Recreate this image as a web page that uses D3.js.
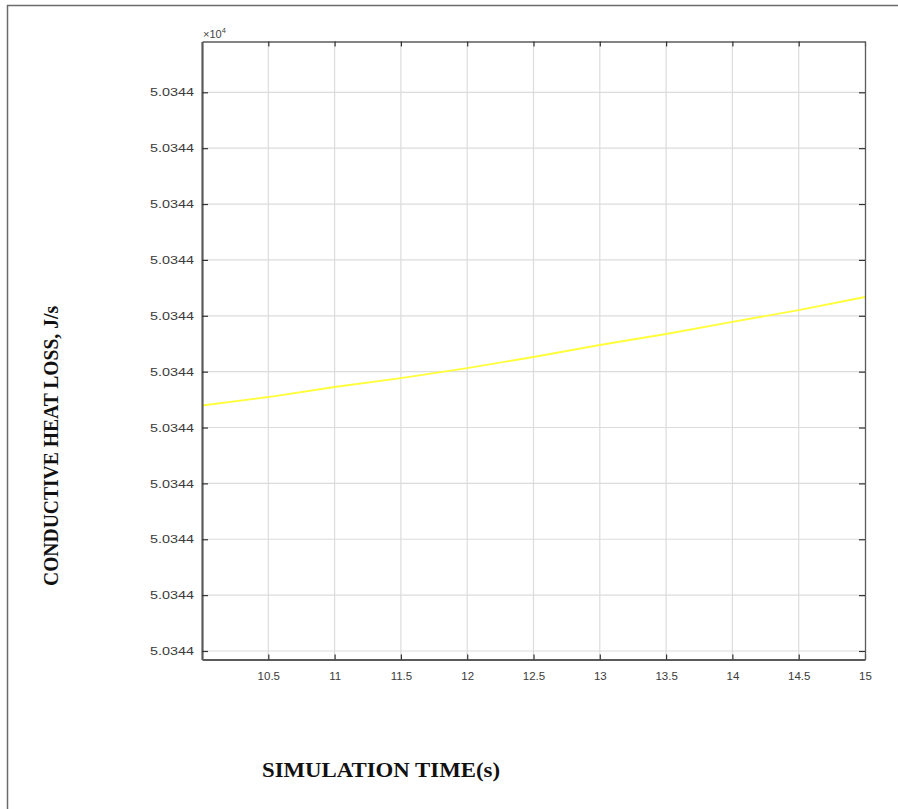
<!DOCTYPE html>
<html>
<head>
<meta charset="utf-8">
<script src="https://cdn.jsdelivr.net/npm/d3@7"></script>
<style>
  body { margin: 0; background: #fff; }
</style>
</head>
<body>
<div id="container"></div>
<script>
let simTime = [10, 10.5, 11, 11.5, 12, 12.5, 13, 13.5, 14, 14.5, 15];
let heatLoss = [50344.04394, 50344.04546, 50344.04725, 50344.04886, 50344.05065, 50344.05262,
                50344.05477, 50344.05674, 50344.05889, 50344.06103, 50344.06336];
let xTickValues = [10.5, 11, 11.5, 12, 12.5, 13, 13.5, 14, 14.5, 15];
let yTickValues = [50344.00, 50344.01, 50344.02, 50344.03, 50344.04, 50344.05,
                   50344.06, 50344.07, 50344.08, 50344.09, 50344.10];

let w = 898;
let h = 809;
let viz = d3.select("#container").append("svg")
    .attr("width", w)
    .attr("height", h)
    .style("background-color", "white");

// outer frame (only left and top edge visible)
viz.append("path")
    .attr("d", "M7.5,809 L7.5,5.5 L898,5.5")
    .attr("fill", "none")
    .attr("stroke", "#6b6b6b")
    .attr("stroke-width", 1.5);

let plotLeft = 202, plotRight = 865, plotTop = 41.5, plotBottom = 659.5;

let xScale = d3.scaleLinear().domain([10, 15]).range([plotLeft, plotRight]);
// tick spacing 0.01 J/s ~ 55.87 px
let yScale = d3.scaleLinear()
    .domain([50344.00 - 8.5 / 55.87 * 0.01, 50344.10 + 50.8 / 55.87 * 0.01])
    .range([plotBottom, plotTop]);

let fmt = function(d) { return (d / 1e4).toFixed(4); };

// grid
let grid = viz.append("g").attr("class", "grid");
grid.selectAll(".vgrid").data(xTickValues.filter(function(d) { return d < 15; })).enter()
    .append("line")
    .attr("x1", function(d) { return xScale(d); })
    .attr("x2", function(d) { return xScale(d); })
    .attr("y1", plotTop).attr("y2", plotBottom)
    .attr("stroke", "#dcdcdc").attr("stroke-width", 1.2);
grid.selectAll(".hgrid").data(yTickValues).enter()
    .append("line")
    .attr("x1", plotLeft).attr("x2", plotRight)
    .attr("y1", function(d) { return yScale(d); })
    .attr("y2", function(d) { return yScale(d); })
    .attr("stroke", "#dcdcdc").attr("stroke-width", 1.2);

// the line
let line = d3.line()
    .x(function(d, i) { return xScale(simTime[i]); })
    .y(function(d) { return yScale(d); });
viz.append("path")
    .datum(heatLoss)
    .attr("d", line)
    .attr("fill", "none")
    .attr("stroke", "#ffff3a")
    .attr("stroke-width", 1.8);

// axes
let axisColor = "#5a5a5a";
let xAxis = d3.axisBottom(xScale).tickValues(xTickValues).tickFormat(d3.format("~g"))
    .tickSizeInner(-5).tickSizeOuter(0).tickPadding(12);
let xAxisGroup = viz.append("g").attr("class", "xAxis")
    .attr("transform", "translate(0, " + plotBottom + ")")
    .call(xAxis);
let xTop = d3.axisTop(xScale).tickValues(xTickValues).tickSizeInner(-5).tickSizeOuter(0).tickFormat("");
let xTopGroup = viz.append("g").attr("transform", "translate(0, " + plotTop + ")").call(xTop);

let yAxis = d3.axisLeft(yScale).tickValues(yTickValues).tickSizeInner(-6).tickSizeOuter(0).tickPadding(8).tickFormat(fmt);
let yAxisGroup = viz.append("g").attr("class", "yAxis")
    .attr("transform", "translate(" + plotLeft + ", 0)")
    .call(yAxis);
let yRight = d3.axisRight(yScale).tickValues(yTickValues).tickSizeInner(-6).tickSizeOuter(0).tickFormat("");
let yRightGroup = viz.append("g").attr("transform", "translate(" + plotRight + ", 0)").call(yRight);

[xAxisGroup, xTopGroup, yAxisGroup, yRightGroup].forEach(function(g) {
    g.select(".domain").attr("stroke", axisColor).attr("stroke-width", 1.3);
    g.selectAll(".tick line").attr("stroke", "#333").attr("stroke-width", 1.2);
    g.selectAll(".tick text")
        .attr("fill", "#3a3a3a")
        .style("font-family", "Liberation Sans, Arial, sans-serif")
        .style("font-size", "11.5px");
});
yAxisGroup.selectAll(".tick text").attr("textLength", 44).attr("lengthAdjust", "spacingAndGlyphs");
xAxisGroup.select(".domain").attr("stroke-width", 2.2);
yAxisGroup.select(".domain").attr("stroke-width", 2.2);

// exponent label
let expo = viz.append("text")
    .attr("x", plotLeft + 1)
    .attr("y", 38)
    .attr("fill", "#444")
    .style("font-family", "Liberation Sans, Arial, sans-serif")
    .style("font-size", "11px")
    .text("\u00d710");
expo.append("tspan").attr("dy", -5).style("font-size", "7.5px").text("4");

// axis titles
viz.append("text")
    .attr("x", 381)
    .attr("y", 777)
    .attr("text-anchor", "middle")
    .attr("textLength", 238)
    .attr("lengthAdjust", "spacingAndGlyphs")
    .style("font-family", "Liberation Serif, serif")
    .style("font-weight", "bold")
    .style("font-size", "21px")
    .attr("fill", "#111")
    .text("SIMULATION TIME(s)");

viz.append("text")
    .attr("transform", "translate(58, 446) rotate(-90)")
    .attr("text-anchor", "middle")
    .attr("textLength", 280)
    .attr("lengthAdjust", "spacingAndGlyphs")
    .style("font-family", "Liberation Serif, serif")
    .style("font-weight", "bold")
    .style("font-size", "21px")
    .attr("fill", "#111")
    .text("CONDUCTIVE HEAT LOSS, J/s");
</script>
</body>
</html>
